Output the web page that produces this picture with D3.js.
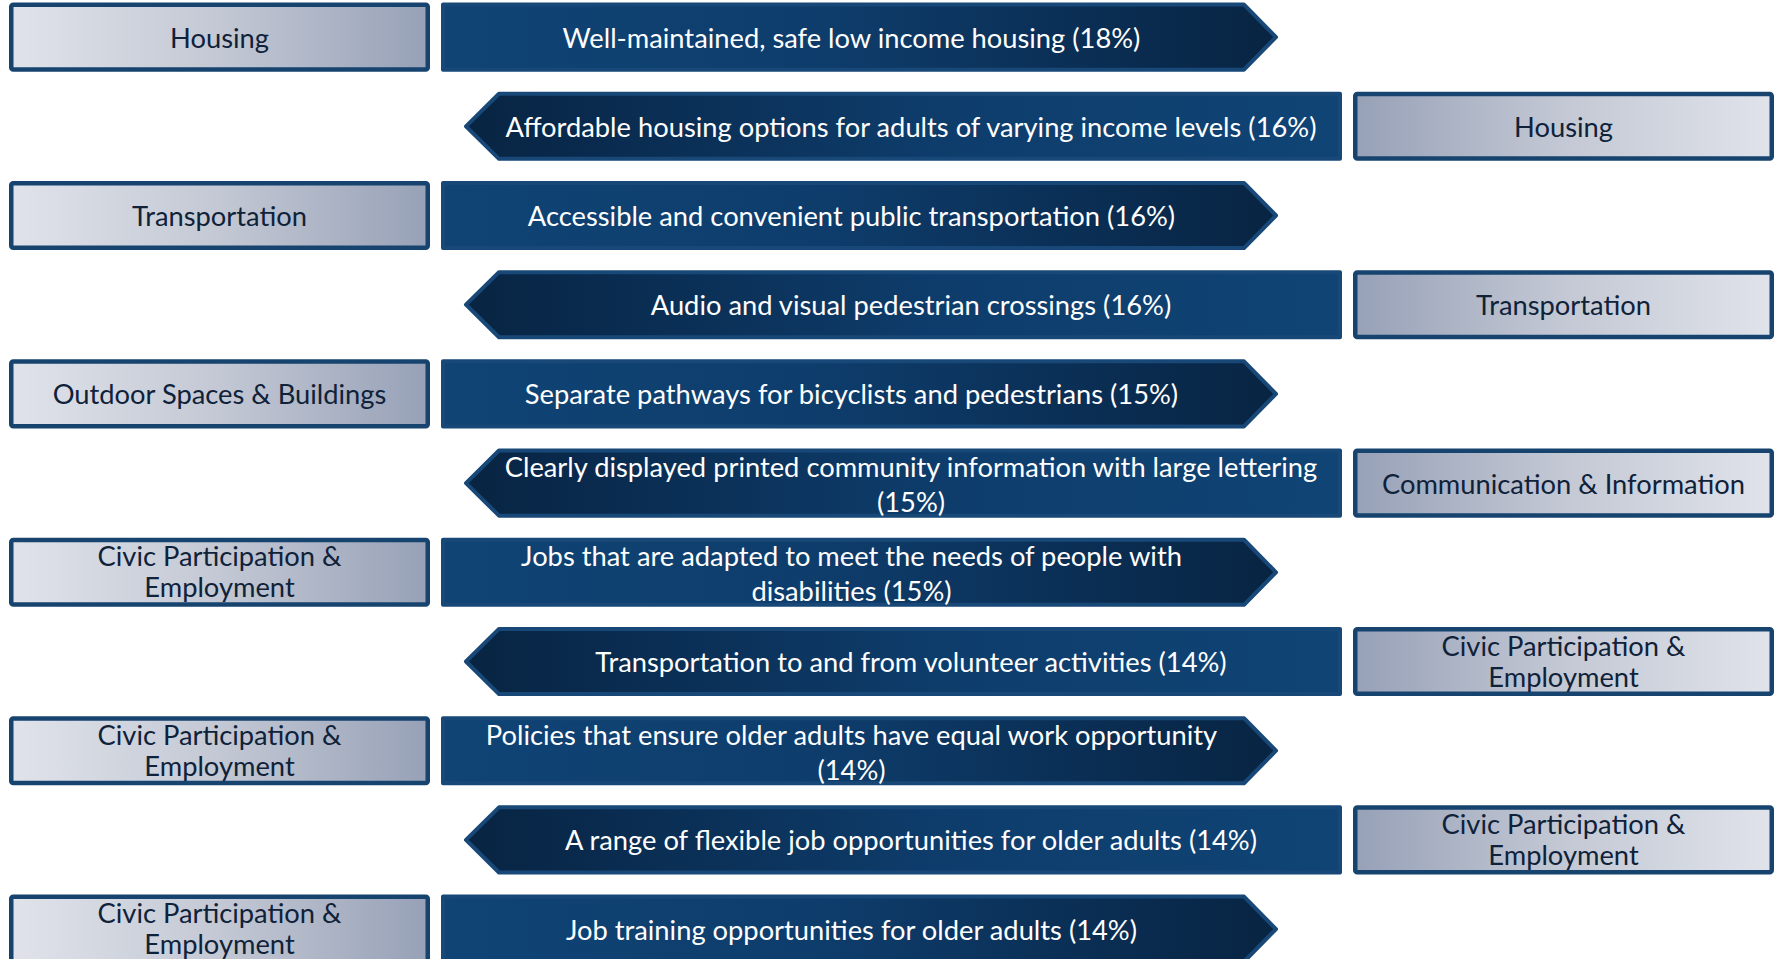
<!DOCTYPE html>
<html>
<head>
<meta charset="utf-8">
<script src="https://cdn.jsdelivr.net/npm/d3@7"></script>
<style>
  html, body { margin: 0; padding: 0; background: #ffffff; overflow: hidden; }
  svg { display: block; }
</style>
</head>
<body>
<svg id="chart" width="1775" height="959"></svg>
<script>
// ---------------- data ----------------
const items = [
  "Well-maintained, safe low income housing",
  "Affordable housing options for adults of varying income levels",
  "Accessible and convenient public transportation",
  "Audio and visual pedestrian crossings",
  "Separate pathways for bicyclists and pedestrians",
  "Clearly displayed printed community information with large lettering\n",
  "Jobs that are adapted to meet the needs of people with\ndisabilities",
  "Transportation to and from volunteer activities",
  "Policies that ensure older adults have equal work opportunity\n",
  "A range of flexible job opportunities for older adults",
  "Job training opportunities for older adults"
];
const percents = [18, 16, 16, 16, 15, 15, 15, 14, 14, 14, 14];
const domains = [
  "Housing",
  "Housing",
  "Transportation",
  "Transportation",
  "Outdoor Spaces & Buildings",
  "Communication & Information",
  "Civic Participation &\nEmployment",
  "Civic Participation &\nEmployment",
  "Civic Participation &\nEmployment",
  "Civic Participation &\nEmployment",
  "Civic Participation &\nEmployment"
];
const sides = ["left", "right", "left", "right", "left", "right", "left", "right", "left", "right", "left"];

// ---------------- layout ----------------
const W = 1775, H = 959;
const svg = d3.select("#chart");
const FONT = "Lato, 'DejaVu Sans', sans-serif";
const FS = 27.3;

const rows = d3.range(items.length);
const PITCH = 89.2;
const y = d3.scaleBand().domain(rows).range([-7.5, -7.5 + PITCH * items.length]).paddingInner(0.225).paddingOuter(0.1125);

// horizontal anchors
const X = {
  lBox0: 9, lBox1: 430,
  rArr0: 441, rArrBody: 1244, rArrTip: 1278,
  lArrTip: 464, lArrBody: 499, lArr1: 1342,
  rBox0: 1353, rBox1: 1774
};

// gradients
const defs = svg.append("defs");
function lin(id, stops) {
  const g = defs.append("linearGradient").attr("id", id).attr("x1", "0").attr("x2", "1").attr("y1", "0").attr("y2", "0");
  stops.forEach(s => g.append("stop").attr("offset", s[0]).attr("stop-color", s[1]));
}
lin("boxL", [[0, "#e0e3ea"], [0.5, "#c3c8d4"], [1, "#97a1b7"]]);
lin("boxR", [[0, "#97a1b7"], [0.5, "#c3c8d4"], [1, "#e0e3ea"]]);
lin("arrR", [[0, "#0f4475"], [0.45, "#0e3d6c"], [0.8, "#0a2d52"], [1, "#082442"]]);
lin("arrL", [[0, "#082442"], [0.2, "#0a2d52"], [0.55, "#0e3d6c"], [1, "#0f4475"]]);

function addText(g, text, cx, cy, color, lineGap, shift) {
  const lines = text.split("\n").filter(s => s.length);
  const n = lines.length;
  const t = g.append("text")
    .attr("x", cx)
    .attr("font-family", FONT)
    .attr("font-size", FS)
    .attr("fill", color)
    .attr("text-anchor", "middle");
  lines.forEach((ln, k) => {
    t.append("tspan")
      .attr("x", cx)
      .attr("y", cy + (k - (n - 1) / 2) * lineGap + (n > 1 ? shift : 0))
      .attr("dominant-baseline", "central")
      .text(ln);
  });
}

const g = svg.append("g");

rows.forEach(i => {
  const top = y(i), bh = y.bandwidth(), cy = top + bh / 2;
  const row = g.append("g");
  const left = sides[i] === "left";
  const label = items[i] + (items[i].endsWith("\n") ? "" : " ") + "(" + percents[i] + "%)";

  // category box
  const bx0 = left ? X.lBox0 : X.rBox0, bx1 = left ? X.lBox1 : X.rBox1;
  const sw = 4.5;
  row.append("rect")
    .attr("x", bx0 + sw / 2).attr("y", top + sw / 2)
    .attr("width", bx1 - bx0 - sw).attr("height", bh - sw)
    .attr("rx", 2)
    .attr("fill", left ? "url(#boxL)" : "url(#boxR)")
    .attr("stroke", "#17436f").attr("stroke-width", sw);
  addText(row, domains[i], (bx0 + bx1) / 2, cy, "#0f2239", 31, -1);

  // arrow
  const s2 = 2;
  let path;
  if (left) {
    path = d3.path();
    path.moveTo(X.rArr0 + s2, top + s2);
    path.lineTo(X.rArrBody, top + s2);
    path.lineTo(X.rArrTip - s2, cy);
    path.lineTo(X.rArrBody, top + bh - s2);
    path.lineTo(X.rArr0 + s2, top + bh - s2);
    path.closePath();
  } else {
    path = d3.path();
    path.moveTo(X.lArr1 - s2, top + s2);
    path.lineTo(X.lArrBody, top + s2);
    path.lineTo(X.lArrTip + s2, cy);
    path.lineTo(X.lArrBody, top + bh - s2);
    path.lineTo(X.lArr1 - s2, top + bh - s2);
    path.closePath();
  }
  row.append("path")
    .attr("d", path.toString())
    .attr("fill", left ? "url(#arrR)" : "url(#arrL)")
    .attr("stroke", "#184878").attr("stroke-width", 4)
    .attr("stroke-linejoin", "round");
  const tx = left ? (X.rArr0 + X.rArrTip) / 2 - 8 : (X.lArrTip + X.lArr1) / 2 + 8;
  addText(row, label, tx, cy, "#ffffff", 35, 1);
});
</script>
</body>
</html>
